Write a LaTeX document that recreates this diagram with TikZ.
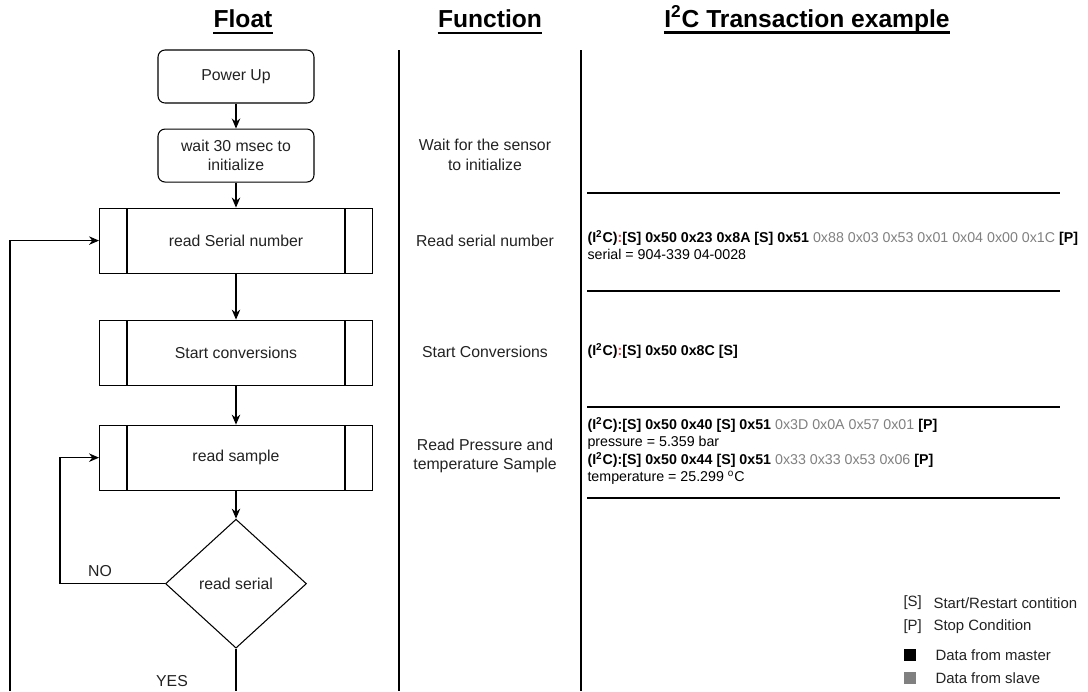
\documentclass[tikz,border=0pt]{standalone}
\usepackage{fontspec}
\setmainfont{Liberation Sans}
\usetikzlibrary{shapes,arrows,arrows.meta,positioning}

\definecolor{slavegray}{RGB}{128,128,128}
\definecolor{colonred}{RGB}{255,51,51}
\definecolor{inkgray}{RGB}{34,34,34}
\newcommand{\iic}{(I\textsuperscript{2}C)}
\newcommand{\slv}[1]{\textcolor{slavegray}{#1}}

\begin{document}
\begin{tikzpicture}[
    x=0.02cm, y=-0.02cm, line width=0.6pt,
    node distance=0.5cm,
    every node/.style={font=\fontsize{9}{11}\selectfont, text=inkgray},
    startbox/.style={rectangle, draw, rounded corners=4pt, align=center, minimum width=3.12cm, minimum height=1.06cm},
    proc/.style={rectangle, draw, minimum width=5.46cm, minimum height=1.3cm,
        path picture={
            \draw ([xshift=0.55cm]path picture bounding box.north west) -- ([xshift=0.55cm]path picture bounding box.south west);
            \draw ([xshift=-0.55cm]path picture bounding box.north east) -- ([xshift=-0.55cm]path picture bounding box.south east);
        }},
    decision/.style={diamond, draw, minimum width=2.82cm, minimum height=2.58cm, inner sep=0pt},
    heading/.style={font=\bfseries\fontsize{14}{16}\selectfont, text=black, inner xsep=0pt},
    func/.style={align=center},
    i2c/.style={anchor=west, align=left, inner sep=0pt, font=\fontsize{8.1}{9.8}\selectfont, text=black},
    lgd/.style={anchor=west, inner sep=0pt, font=\fontsize{8.5}{10}\selectfont},
    swatch/.style={rectangle, inner sep=0pt, minimum size=0.24cm},
    arrow/.style={->,>={Stealth[length=2mm,width=1.7mm]}}
]
\useasboundingbox (0,0) rectangle (1088,691);

% Column headings
\node[heading] (hflt) at (243,19) {Float};
\node[heading] (hfun) at (490,19) {Function};
\node[heading] (hiic) at (807,19) {I\textsuperscript{2}C Transaction example};
\foreach \h in {hflt,hfun,hiic}
    \draw[line width=1.6pt] ([yshift=-3pt]\h.base west) -- ([yshift=-3pt]\h.base east);

% Column separators
\draw (399,50) -- (399,691);
\draw (581,50) -- (581,691);
\foreach \yy in {193,291,407,498}
    \draw (587,\yy) -- (1060,\yy);

% Flow chart
\node[startbox] (pwr) at (236,76.5) {Power Up};
\node[startbox, below=0.5cm of pwr] (wait) {wait 30 msec to\\initialize};
\node[proc, below=0.5cm of wait] (serial) {read Serial number};
\node[proc, below=0.92cm of serial] (conv) {Start conversions};
\node[proc, below=0.78cm of conv] (sample) {read sample};
\node[decision, below=0.56cm of sample] (chk) {read serial};

\draw[arrow] (pwr) -- (wait);
\draw[arrow] (wait) -- (serial);
\draw[arrow] (serial) -- (conv);
\draw[arrow] (conv) -- (sample);
\draw[arrow] (sample) -- (chk);

% NO loop back to sample, YES leaves the page
\draw[arrow] (chk.west) -- ++(-105,0) |- (sample.west);
\node (no) at (100,571) {NO};
\coordinate (bot) at (0,691);
\draw (chk.south) -- (chk.south |- bot);
\node (yes) at (172,681) {YES};
\coordinate (loopend) at (10,691);
\draw[arrow] (loopend) |- (serial.west);

% Function column
\node[func] (fwait) at (485,155) {Wait for the sensor\\to initialize};
\node[func] (fserial) at (fwait |- serial) {Read serial number};
\node[func] (fconv) at (485,352) {Start Conversions};
\node[func] (fsample) at (485,456) {Read Pressure and\\temperature Sample};

% I2C transactions
\node[i2c] (tserial) at (587,245) {\textbf{\iic\textcolor{colonred}{:}[S] 0x50 0x23 0x8A [S] 0x51} \slv{0x88 0x03 0x53 0x01 0x04 0x00 0x1C} \textbf{[P]}\\
    serial = 904-339 04-0028};
\node[i2c] (tconv) at (587,351) {\textbf{\iic\textcolor{colonred}{:}[S] 0x50 0x8C [S]}};
\node[i2c] (tsample) at (587,451) {\textbf{\iic:[S] 0x50 0x40 [S] 0x51} \slv{0x3D 0x0A 0x57 0x01} \textbf{[P]}\\
    pressure = 5.359 bar\\
    \textbf{\iic:[S] 0x50 0x44 [S] 0x51} \slv{0x33 0x33 0x53 0x06} \textbf{[P]}\\
    temperature = 25.299 \textsuperscript{o}C};

% Legend
\node[lgd] (ks) at (903,603) {[S]};
\node[lgd] (kst) at (933,603) {Start/Restart contition};
\node[lgd] (kp) at (903,627) {[P]};
\node[lgd] (kpt) at (933,627) {Stop Condition};
\node[swatch, fill=black] (km) at (910,655) {};
\node[lgd] (kmt) at (935,655) {Data from master};
\node[swatch, fill=slavegray] (kg) at (910,678) {};
\node[lgd] (kgt) at (935,678) {Data from slave};

\end{tikzpicture}
\end{document}
